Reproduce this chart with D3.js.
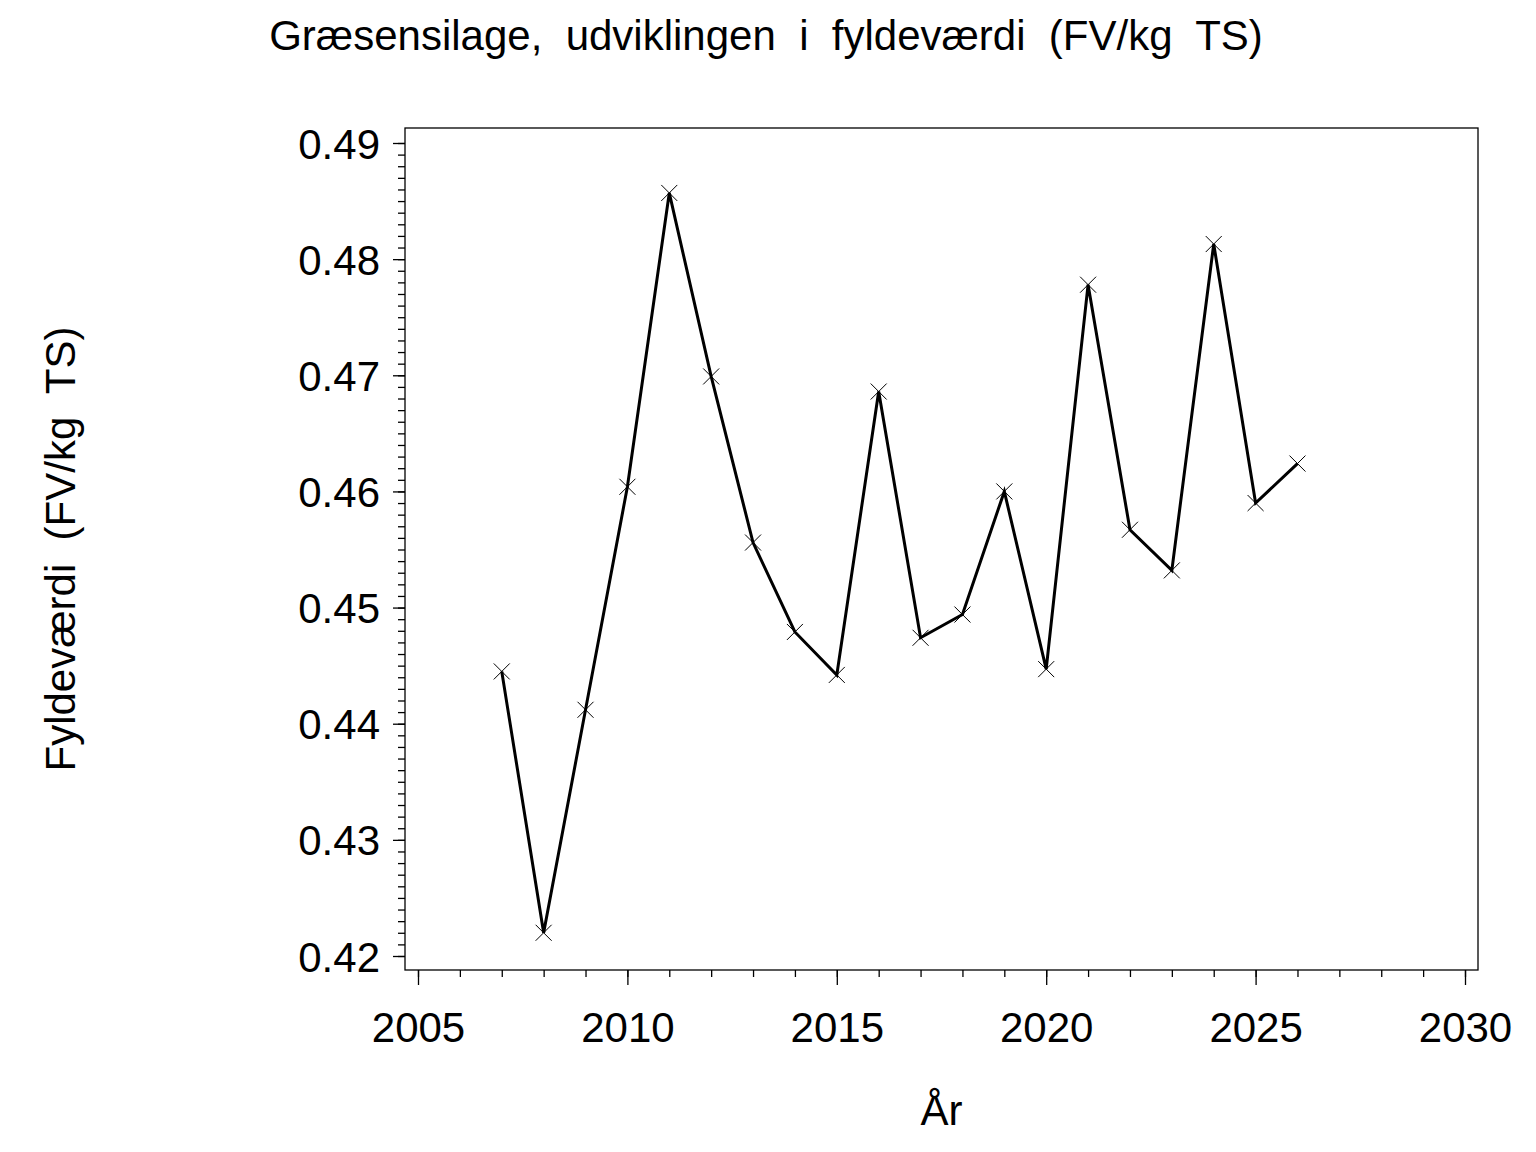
<!DOCTYPE html>
<html>
<head>
<meta charset="utf-8">
<script src="https://cdn.jsdelivr.net/npm/d3@7"></script>
<style>
  body { margin: 0; background: #fff; }
  text { font-family: "Liberation Sans", Arial, sans-serif; fill: #000; }
</style>
</head>
<body>
<div id="chart"></div>
<script>
// values
const years = [2007, 2008, 2009, 2010, 2011, 2012, 2013, 2014, 2015, 2016,
               2017, 2018, 2019, 2020, 2021, 2022, 2023, 2024, 2025, 2026];
const fyldevaerdi = [0.4445, 0.4220, 0.4412, 0.4604, 0.4857, 0.4699, 0.4556, 0.4479, 0.4442, 0.4686,
                     0.4474, 0.4494, 0.4600, 0.4447, 0.4778, 0.4567, 0.4532, 0.4813, 0.4590, 0.4624];
const xTicks = [2005, 2010, 2015, 2020, 2025, 2030];
const yTicks = [0.42, 0.43, 0.44, 0.45, 0.46, 0.47, 0.48, 0.49];

const title = 'Græsensilage,  udviklingen  i  fyldeværdi  (FV/kg  TS)';
const yLabel = 'Fyldeværdi  (FV/kg  TS)';
const xLabel = 'År';

const width = 1536;
const height = 1152;
const frame = { left: 405, right: 1478, top: 128, bottom: 970 };

const data = years.map((y, i) => ({ year: y, value: fyldevaerdi[i] }));

const svg = d3.select('#chart')
    .append('svg')
    .attr('width', width)
    .attr('height', height);

const xScale = d3.scaleLinear().domain([2005, 2030]).range([418, 1465]);
const yScale = d3.scaleLinear().domain([0.42, 0.49]).range([956, 143]);

// frame
svg.append('rect')
    .attr('x', frame.left)
    .attr('y', frame.top)
    .attr('width', frame.right - frame.left)
    .attr('height', frame.bottom - frame.top)
    .attr('fill', 'none')
    .attr('stroke', '#000')
    .attr('stroke-width', 1.3);

// x axis: minor ticks every year, major every 5
const xMinor = d3.range(2005, 2031);
const xAxisMinor = d3.axisBottom(xScale).tickValues(xMinor).tickSize(7).tickFormat('');
const xAxisMajor = d3.axisBottom(xScale).tickValues(xTicks).tickSize(15)
    .tickFormat(d3.format('d'));

const gxMinor = svg.append('g').attr('transform', `translate(0, ${frame.bottom})`).call(xAxisMinor);
const gxMajor = svg.append('g').attr('transform', `translate(0, ${frame.bottom})`).call(xAxisMajor);

// y axis: minor ticks every 0.001, major every 0.01
const yMinor = d3.range(420, 491).map((d) => d / 1000);
const yAxisMinor = d3.axisLeft(yScale).tickValues(yMinor).tickSize(7).tickFormat('');
const yAxisMajor = d3.axisLeft(yScale).tickValues(yTicks).tickSize(12).tickPadding(13)
    .tickFormat(d3.format('.2f'));

const gyMinor = svg.append('g').attr('transform', `translate(${frame.left}, 0)`).call(yAxisMinor);
const gyMajor = svg.append('g').attr('transform', `translate(${frame.left}, 0)`).call(yAxisMajor);

[gxMinor, gxMajor, gyMinor, gyMajor].forEach((g) => {
    g.select('.domain').remove();
    g.selectAll('line').attr('stroke', '#000').attr('stroke-width', 1.3);
    g.selectAll('text')
        .style('font-family', '"Liberation Sans", Arial, sans-serif')
        .style('font-size', '42px')
        .attr('fill', '#000');
});
gxMajor.selectAll('text').attr('dy', null).attr('y', 72);
gyMajor.selectAll('text').attr('dy', '0.36em');

// line
const line = d3.line()
    .x((d) => xScale(d.year))
    .y((d) => yScale(d.value));

svg.append('path')
    .datum(data)
    .attr('d', line)
    .attr('fill', 'none')
    .attr('stroke', '#000')
    .attr('stroke-width', 3)
    .attr('stroke-linejoin', 'miter');

// x markers
const s = 8;
svg.append('g')
    .selectAll('path')
    .data(data)
    .join('path')
    .attr('d', (d) => {
        const x = xScale(d.year), y = yScale(d.value);
        return `M${x - s},${y - s}L${x + s},${y + s}M${x - s},${y + s}L${x + s},${y - s}`;
    })
    .attr('stroke', '#000')
    .attr('stroke-width', 1)
    .attr('fill', 'none');

// titles
svg.append('text')
    .attr('x', 766)
    .attr('y', 50)
    .attr('text-anchor', 'middle')
    .style('font-size', '42px')
    .style('white-space', 'pre')
    .text(title);

svg.append('text')
    .attr('transform', `translate(75, ${(frame.top + frame.bottom) / 2}) rotate(-90)`)
    .attr('text-anchor', 'middle')
    .style('font-size', '42px')
    .style('white-space', 'pre')
    .text(yLabel);

svg.append('text')
    .attr('x', (frame.left + frame.right) / 2)
    .attr('y', 1125)
    .attr('text-anchor', 'middle')
    .style('font-size', '42px')
    .text(xLabel);
</script>
</body>
</html>
